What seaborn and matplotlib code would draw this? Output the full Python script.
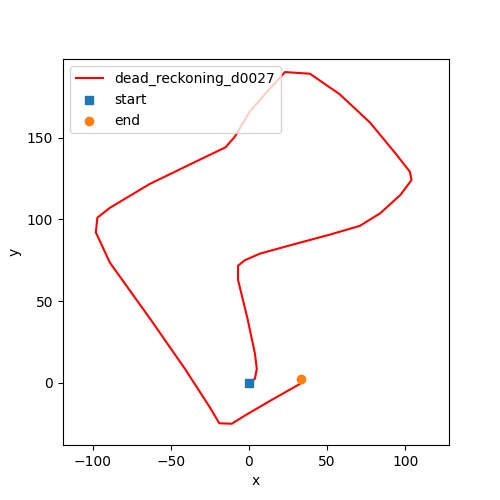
import numpy as np
import pandas as pd
import matplotlib
matplotlib.use("Agg")
import matplotlib.pyplot as plt
import seaborn as sns

# path
xs = [0, 3.8, 5, 3.8, -1, -7, -7, -2.6, 7, 26, 52, 71, 84, 97, 104, 103, 94, 77.6, 58, 39, 23,
      13.5, 0.6, -9, -15, -34.6, -63.5, -89, -97, -98, -89, -63.5, -41, -25, -19, -11, -2.6,
      13.5, 32.7, 34]
ys = [0, 2.5, 8.6, 18, 39.5, 63, 71.6, 75, 79, 84, 90.7, 96, 103.7, 115, 124, 129, 140, 159,
      176.5, 189, 190, 180, 166, 150.6, 144, 135, 121.6, 107, 101, 92, 73.5, 39.5, 8.6, -15,
      -24.7, -25, -20, -11, -0.6, 2.5]
start = (0, 0)
end = (33, 2.5)

df = pd.DataFrame({"x": xs, "y": ys})

fig, ax = plt.subplots(figsize=(5, 5), dpi=100)
sns.lineplot(data=df, x="x", y="y", sort=False, estimator=None, color="red", ax=ax,
             label="dead_reckoning_d0027")
ax.scatter([start[0]], [start[1]], marker="s", color="#1f77b4", label="start", zorder=3)
ax.scatter([end[0]], [end[1]], marker="o", color="#ff7f0e", label="end", zorder=3)
ax.set_xlim(-119, 128)
ax.set_ylim(-38, 198)
ax.set_xlabel("x")
ax.set_ylabel("y")
ax.legend(loc="upper left")
fig.subplots_adjust(left=0.126, right=0.898, bottom=0.11, top=0.882)
fig.savefig("out.png")
